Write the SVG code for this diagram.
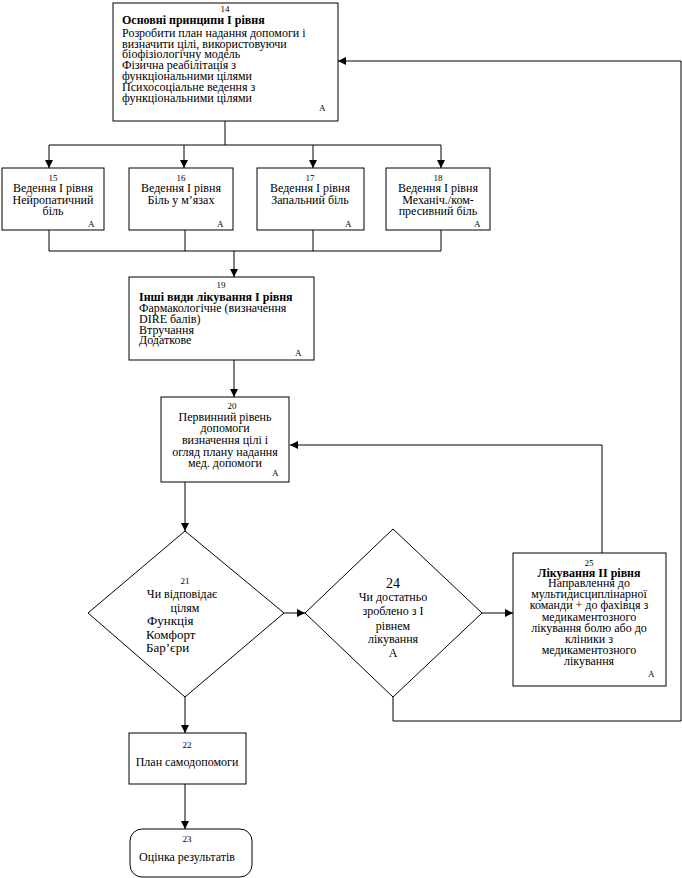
<svg xmlns="http://www.w3.org/2000/svg" width="682" height="878" viewBox="0 0 682 878">
<style>
.b{fill:#fff;stroke:#000;stroke-width:1}
.c{fill:none;stroke:#000;stroke-width:1}
text{font-family:"Liberation Serif","Times New Roman",serif;font-size:12px;fill:#000}
.n{font-size:9px}
.m{text-anchor:middle}
.bd{font-weight:bold}
.l{font-size:13px}
</style>
<defs>
<marker id="ar" markerUnits="userSpaceOnUse" markerWidth="8" markerHeight="8" refX="8" refY="4" orient="auto">
<path d="M0,0 L8,4 L0,8 z" fill="#000"/>
</marker>
</defs>
<rect width="682" height="878" fill="#fff"/>
<g id="connectors">
<polyline class="c" points="225,121 225,145"/>
<polyline class="c" points="49,145 441,145"/>
<polyline class="c" points="49,145 49,168" marker-end="url(#ar)"/>
<polyline class="c" points="184,145 184,168" marker-end="url(#ar)"/>
<polyline class="c" points="313,145 313,168" marker-end="url(#ar)"/>
<polyline class="c" points="441,145 441,168" marker-end="url(#ar)"/>
<polyline class="c" points="49,230 49,251 441,251"/>
<polyline class="c" points="185,230 185,251"/>
<polyline class="c" points="313,230 313,251"/>
<polyline class="c" points="441,230 441,251"/>
<polyline class="c" points="234,251 234,277" marker-end="url(#ar)"/>
<polyline class="c" points="234,360 234,397" marker-end="url(#ar)"/>
<polyline class="c" points="185,482 185,531" marker-end="url(#ar)"/>
<polyline class="c" points="284,613 305,613" marker-end="url(#ar)"/>
<polyline class="c" points="482,613 513,613" marker-end="url(#ar)"/>
<polyline class="c" points="602,553 602,445 290,445" marker-end="url(#ar)"/>
<polyline class="c" points="393,697 393,721 681,721 681,61 338,61" marker-end="url(#ar)"/>
<polyline class="c" points="185,697 185,733" marker-end="url(#ar)"/>
<polyline class="c" points="185,784 185,829" marker-end="url(#ar)"/>
</g>
<g id="n14">
<rect class="b" x="113" y="3" width="225" height="118"/>
<text class="n m" x="225" y="12">14</text>
<text class="bd" x="122" y="24">Основні принципи І рівня</text>
<text x="122" y="37">Розробити план надання допомоги і</text>
<text x="122" y="48">визначити цілі, використовуючи</text>
<text x="122" y="58">біофізіологічну модель</text>
<text x="122" y="69">Фізична реабілітація з</text>
<text x="122" y="80">функціональними цілями</text>
<text x="122" y="91">Психосоціальне ведення з</text>
<text x="122" y="102">функціональними цілями</text>
<text class="n" x="319" y="111">A</text>
</g>
<g id="n15">
<rect class="b" x="2" y="168" width="102" height="62"/>
<text class="n m" x="53" y="181">15</text>
<text class="m" x="53" y="192">Ведення І рівня</text>
<text class="m" x="53" y="204">Нейропатичний</text>
<text class="m" x="53" y="215">біль</text>
<text class="n" x="88" y="227">A</text>
</g>
<g id="n16">
<rect class="b" x="129" y="168" width="104" height="62"/>
<text class="n m" x="181" y="181">16</text>
<text class="m" x="181" y="192">Ведення І рівня</text>
<text class="m" x="181" y="204">Біль у м’язах</text>
<text class="n" x="217" y="227">A</text>
</g>
<g id="n17">
<rect class="b" x="257" y="168" width="107" height="62"/>
<text class="n m" x="310" y="181">17</text>
<text class="m" x="310" y="192">Ведення І рівня</text>
<text class="m" x="310" y="204">Запальний біль</text>
<text class="n" x="345" y="227">A</text>
</g>
<g id="n18">
<rect class="b" x="386" y="168" width="104" height="62"/>
<text class="n m" x="438" y="181">18</text>
<text class="m" x="438" y="192">Ведення І рівня</text>
<text class="m" x="438" y="204">Механіч./ком-</text>
<text class="m" x="438" y="215">пресивний біль</text>
<text class="n" x="474" y="227">A</text>
</g>
<g id="n19">
<rect class="b" x="129" y="277" width="185" height="83"/>
<text class="n m" x="221" y="288">19</text>
<text class="bd" x="139" y="301">Інші види лікування І рівня</text>
<text x="139" y="312">Фармакологічне (визначення</text>
<text x="139" y="323">DIRE балів)</text>
<text x="139" y="334">Втручання</text>
<text x="139" y="344">Додаткове</text>
<text class="n" x="295" y="356">A</text>
</g>
<g id="n20">
<rect class="b" x="161" y="397" width="128" height="85"/>
<text class="n m" x="232" y="409">20</text>
<text class="m" x="225" y="421">Первинний рівень</text>
<text class="m" x="225" y="432">допомоги</text>
<text class="m" x="225" y="444">визначення цілі і</text>
<text class="m" x="225" y="456">огляд плану надання</text>
<text class="m" x="225" y="467">мед. допомоги</text>
<text class="n" x="272" y="476">A</text>
</g>
<g id="n21">
<polygon class="b" points="185,531 284,613 185,697 88,613"/>
<text class="n m" x="185" y="584">21</text>
<text class="m" x="182" y="598">Чи відповідає</text>
<text class="m" x="185" y="612">цілям</text>
<text class="l" x="147" y="625">Функція</text>
<text class="l" x="146" y="639">Комфорт</text>
<text class="l" x="146" y="652">Бар’єри</text>
</g>
<g id="n24">
<polygon class="b" points="393,529 482,613 393,697 305,613"/>
<text class="m" x="393" y="588" style="font-size:14px">24</text>
<text class="m" x="393" y="601">Чи достатньо</text>
<text class="m" x="393" y="615">зроблено з І</text>
<text class="m" x="393" y="630">рівнем</text>
<text class="m" x="393" y="643">лікування</text>
<text class="m" x="393" y="657">A</text>
</g>
<g id="n25">
<rect class="b" x="513" y="553" width="153" height="133"/>
<text class="n m" x="589" y="566">25</text>
<text class="bd m" x="589" y="577">Лікування ІІ рівня</text>
<text class="m" x="589" y="587">Направлення до</text>
<text class="m" x="589" y="598">мультидисциплінарної</text>
<text class="m" x="589" y="609">команди + до фахівця з</text>
<text class="m" x="589" y="621">медикаментозного</text>
<text class="m" x="589" y="632">лікування болю або до</text>
<text class="m" x="589" y="643">кліники з</text>
<text class="m" x="589" y="654">медикаментозного</text>
<text class="m" x="589" y="665">лікування</text>
<text class="n" x="648" y="677">A</text>
</g>
<g id="n22">
<rect class="b" x="129" y="733" width="117" height="51"/>
<text class="n m" x="187" y="748">22</text>
<text class="m" x="187" y="766">План самодопомоги</text>
</g>
<g id="n23">
<rect class="b" x="130" y="829" width="122" height="48" rx="12" ry="12"/>
<text class="n m" x="187" y="842">23</text>
<text class="m" x="187" y="861">Оцінка результатів</text>
</g>
</svg>
